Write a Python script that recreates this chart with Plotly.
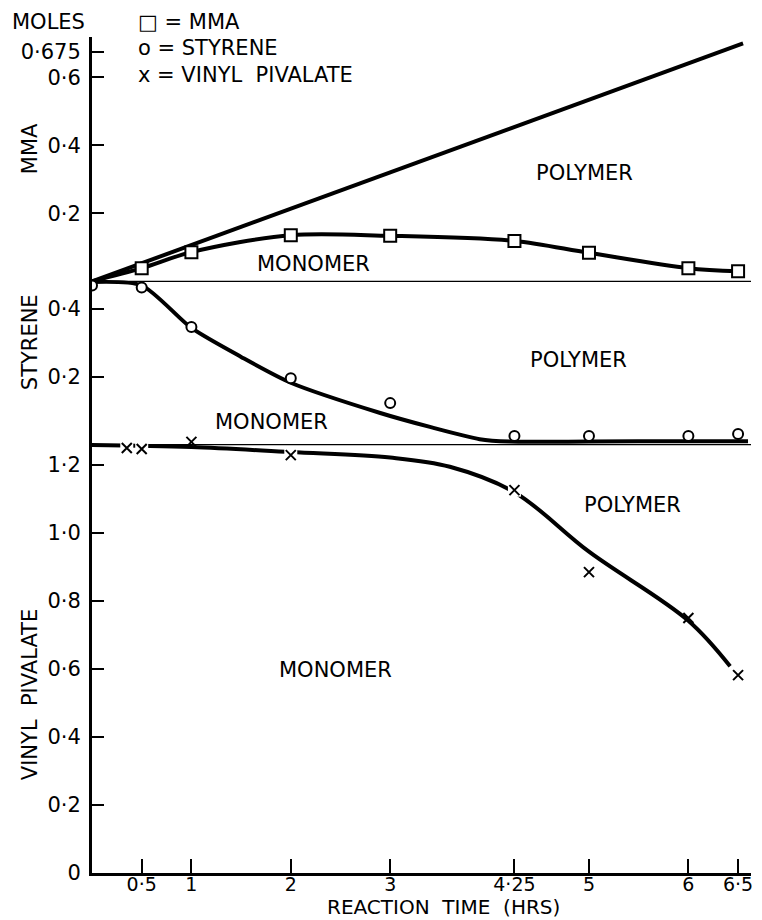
import plotly.graph_objects as go

# ---- data (moles vs reaction time in hours) ----
VP_INITIAL = 1.26      # vinyl pivalate charged
STY_INITIAL = 0.48     # styrene charged
STY_BASE = VP_INITIAL              # styrene band sits on top of the VP band
MMA_BASE = VP_INITIAL + STY_INITIAL  # MMA band sits on top of the styrene band

# MMA: total fed (straight line) and monomer found
mma_feed_t = [0, 6.55]
mma_feed = [0, 0.70]
mma_t = [0, 0.5, 1, 2, 3, 4.25, 5, 6, 6.5]
mma_monomer = [0, 0.039, 0.086, 0.136, 0.134, 0.119, 0.084, 0.039, 0.030]

# Styrene: measured points and smoothed curve
sty_t = [0, 0.5, 1, 2, 3, 4.25, 5, 6, 6.5]
sty_monomer = [0.468, 0.462, 0.346, 0.195, 0.122, 0.025, 0.025, 0.025, 0.031]
sty_curve_t = [0, 0.5, 1, 1.5, 2, 2.9, 3.4, 3.9, 4.2, 5.0, 6.0, 6.6]
sty_curve = [0.478, 0.468, 0.343, 0.258, 0.182, 0.093, 0.052, 0.016, 0.009, 0.009, 0.010, 0.010]

# Vinyl pivalate: measured points and smoothed curve
vp_t = [0.35, 0.5, 1, 2, 4.25, 5, 6, 6.5]
vp_monomer = [1.250, 1.247, 1.268, 1.229, 1.126, 0.885, 0.750, 0.582]
vp_curve_t = [0, 1, 2, 3, 3.6, 4.25, 5, 6, 6.42]
vp_curve = [1.259, 1.253, 1.238, 1.222, 1.195, 1.120, 0.945, 0.742, 0.608]

# axis tick labels for each band
vp_ticks = [0, 0.2, 0.4, 0.6, 0.8, 1.0, 1.2]
vp_ticktext = ["0", "0·2", "0·4", "0·6", "0·8", "1·0", "1·2"]
sty_ticks = [0.2, 0.4]
sty_ticktext = ["0·2", "0·4"]
mma_ticks = [0.2, 0.4, 0.6, 0.675]
mma_ticktext = ["0·2", "0·4", "0·6", "0·675"]
time_ticks = [0.5, 1, 2, 3, 4.25, 5, 6, 6.5]
time_ticktext = ["0·5", "1", "2", "3", "4·25", "5", "6", "6·5"]

X_MAX = 6.63
FONT = "DejaVu Sans"
INK = "black"

W, H = 762, 920
ML, MR, MT, MB = 92, 9, 37, 47
PW, PH = W - ML - MR, H - MT - MB


def px(x):
    return (x - ML) / PW


def py(y):
    return (H - MB - y) / PH


fig = go.Figure()

# thin band boundaries
for base in (MMA_BASE, STY_BASE):
    fig.add_trace(go.Scatter(x=[0, X_MAX], y=[base, base], mode="lines",
                             line=dict(color=INK, width=1.2), hoverinfo="skip"))

# MMA fed
fig.add_trace(go.Scatter(x=mma_feed_t, y=[MMA_BASE + v for v in mma_feed], mode="lines",
                         line=dict(color=INK, width=4)))
# MMA monomer
fig.add_trace(go.Scatter(x=mma_t, y=[MMA_BASE + v for v in mma_monomer], mode="lines",
                         line=dict(color=INK, width=4, shape="spline", smoothing=0.9)))
fig.add_trace(go.Scatter(x=mma_t[1:], y=[MMA_BASE + v for v in mma_monomer[1:]], mode="markers",
                         marker=dict(symbol="square", size=12, color="white",
                                     line=dict(color=INK, width=2))))

# styrene monomer
fig.add_trace(go.Scatter(x=sty_curve_t, y=[STY_BASE + v for v in sty_curve], mode="lines",
                         line=dict(color=INK, width=4, shape="spline", smoothing=0.7)))
fig.add_trace(go.Scatter(x=sty_t, y=[STY_BASE + v for v in sty_monomer], mode="markers",
                         marker=dict(symbol="circle", size=10, color="white",
                                     line=dict(color=INK, width=2))))

# vinyl pivalate monomer
fig.add_trace(go.Scatter(x=vp_curve_t, y=vp_curve, mode="lines",
                         line=dict(color=INK, width=4, shape="spline", smoothing=1.0)))
# small breaks in the line around the crosses
gap_idx = [0, 1, 3, 4]
fig.add_trace(go.Scatter(x=[vp_t[i] for i in gap_idx], y=[vp_monomer[i] for i in gap_idx],
                         mode="markers",
                         marker=dict(symbol="square", size=13, color="white", line=dict(width=0))))
fig.add_trace(go.Scatter(x=vp_t, y=vp_monomer, mode="markers",
                         marker=dict(symbol="x-thin", size=10, color=INK,
                                     line=dict(color=INK, width=2))))

y_tickvals = vp_ticks + [STY_BASE + v for v in sty_ticks] + [MMA_BASE + v for v in mma_ticks]
y_ticktext = vp_ticktext + sty_ticktext + mma_ticktext

fig.update_layout(
    width=W, height=H,
    margin=dict(l=ML, r=MR, t=MT, b=MB),
    paper_bgcolor="white", plot_bgcolor="white",
    showlegend=False,
    font=dict(family=FONT, color=INK),
    xaxis=dict(range=[0, X_MAX], showgrid=False, zeroline=False,
               showline=True, linecolor=INK, linewidth=3,
               ticks="inside", ticklen=14, tickwidth=2, tickcolor=INK,
               tickvals=time_ticks, ticktext=time_ticktext,
               ticklabelstandoff=-8,
               tickfont=dict(size=19, family=FONT, color=INK)),
    yaxis=dict(range=[0, PH / 340], showgrid=False, zeroline=False,
               showline=True, linecolor=INK, linewidth=3,
               ticks="inside", ticklen=12, tickwidth=2, tickcolor=INK,
               tickvals=y_tickvals, ticktext=y_ticktext,
               ticklabelstandoff=4,
               tickfont=dict(size=21, family=FONT, color=INK)),
)

TXT = dict(size=21, family=FONT, color=INK)

# region labels inside the plot
regions = [
    ("POLYMER", 4.95, 2.059), ("MONOMER", 2.23, 1.791),
    ("POLYMER", 4.89, 1.509), ("MONOMER", 1.81, 1.326),
    ("POLYMER", 5.44, 1.082), ("MONOMER", 2.45, 0.597),
]
for text, x, y in regions:
    fig.add_annotation(text=text, x=x, y=y, xref="x", yref="y", showarrow=False,
                       xanchor="center", yanchor="middle", font=TXT)

# header, key and band titles
fig.add_annotation(text="MOLES", x=px(10), y=py(22), xref="paper", yref="paper",
                   xanchor="left", yanchor="middle", showarrow=False, font=TXT)
key = [("□ = MMA", 22), ("o = STYRENE", 48), ("x = VINYL  PIVALATE", 75)]
for text, ypix in key:
    fig.add_annotation(text=text, x=px(136), y=py(ypix), xref="paper", yref="paper",
                       xanchor="left", yanchor="middle", showarrow=False, font=TXT)

bands = [("MMA", 149), ("STYRENE", 342), ("VINYL  PIVALATE", 695)]
for text, ypix in bands:
    fig.add_annotation(text=text, x=px(30), y=py(ypix), xref="paper", yref="paper",
                       xanchor="center", yanchor="middle",
                       textangle=-90, showarrow=False, font=TXT)

fig.add_annotation(text="REACTION  TIME  (HRS)", x=px(445), y=py(907), xref="paper", yref="paper",
                   xanchor="center", yanchor="middle", showarrow=False,
                   font=dict(size=20, family=FONT, color=INK))

fig.write_html("out.html")
